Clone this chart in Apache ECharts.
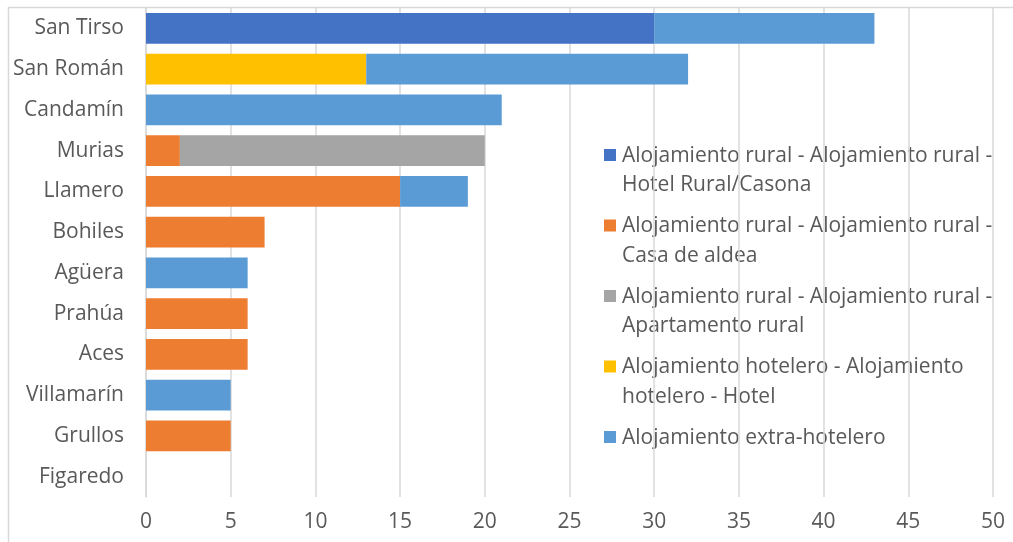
<!DOCTYPE html>
<html>
<head>
<meta charset="utf-8">
<script src="https://cdn.jsdelivr.net/npm/echarts@6/dist/echarts.min.js"></script>
<style>
  html, body { margin: 0; padding: 0; background: #fff; }
  #chart { width: 1013px; height: 542px; }
</style>
</head>
<body>
<div id="chart"></div>
<script>
// Localidades (top to bottom)
const categories = ['San Tirso', 'San Román', 'Candamín', 'Murias', 'Llamero', 'Bohiles',
  'Agüera', 'Prahúa', 'Aces', 'Villamarín', 'Grullos', 'Figaredo'];

// Establecimientos por tipo
const hotelRuralCasona = [30, 0, 0, 0, 0, 0, 0, 0, 0, 0, 0, 0];
const casaDeAldea      = [0, 0, 0, 2, 15, 7, 0, 6, 6, 0, 5, 0];
const apartamentoRural = [0, 0, 0, 18, 0, 0, 0, 0, 0, 0, 0, 0];
const hotel            = [0, 13, 0, 0, 0, 0, 0, 0, 0, 0, 0, 0];
const extraHotelero    = [13, 19, 21, 0, 4, 0, 6, 0, 0, 5, 0, 0];

const seriesNames = [
  'Alojamiento rural - Alojamiento rural - Hotel Rural/Casona',
  'Alojamiento rural - Alojamiento rural - Casa de aldea',
  'Alojamiento rural - Alojamiento rural - Apartamento rural',
  'Alojamiento hotelero - Alojamiento hotelero - Hotel',
  'Alojamiento extra-hotelero'
];
// Legend text as wrapped lines
const legendLines = [
  'Alojamiento rural - Alojamiento rural -\nHotel Rural/Casona',
  'Alojamiento rural - Alojamiento rural -\nCasa de aldea',
  'Alojamiento rural - Alojamiento rural -\nApartamento rural',
  'Alojamiento hotelero - Alojamiento\nhotelero - Hotel',
  'Alojamiento extra-hotelero'
];
const seriesData = [hotelRuralCasona, casaDeAldea, apartamentoRural, hotel, extraHotelero];
const colors = ['#4472C4', '#ED7D31', '#A5A5A5', '#FFC000', '#5B9BD5'];

const FONT = 'Open Sans';
const FONT_SIZE = 21;
const TEXT = '#595959';
const GRID = '#D9D9D9';

const chart = echarts.init(document.getElementById('chart'), null, { renderer: 'canvas' });

// Legend drawn as a column of swatches with wrapped labels
const legendGraphics = [];
const legendX = 604, legendY0 = 155, legendStep = 70.5, lineH = 29.5;
legendLines.forEach((txt, i) => {
  const cy = legendY0 + i * legendStep;
  legendGraphics.push({
    type: 'rect', shape: { x: legendX, y: cy - 6, width: 12, height: 12 },
    style: { fill: colors[i] }, silent: true
  });
  legendGraphics.push({
    type: 'text', x: legendX + 18, y: cy - lineH / 2 + 1,
    style: {
      text: txt, fill: TEXT, font: FONT_SIZE + 'px "' + FONT + '"', lineHeight: lineH,
      verticalAlign: 'top', align: 'left'
    }, silent: true
  });
});

chart.setOption({
  animation: false,
  backgroundColor: '#fff',
  textStyle: { fontFamily: FONT },
  grid: { left: 146, right: 20, top: 8, bottom: 45, containLabel: false },
  xAxis: {
    type: 'value', min: 0, max: 50, interval: 5,
    axisLine: { show: false }, axisTick: { show: false },
    splitLine: { show: true, lineStyle: { color: GRID, width: 1.5 } },
    axisLabel: { color: TEXT, fontSize: FONT_SIZE, margin: 15, fontFamily: FONT }
  },
  yAxis: {
    type: 'category', data: categories, inverse: true,
    axisLine: { show: true, lineStyle: { color: GRID, width: 1.5 } },
    axisTick: { show: false },
    axisLabel: { color: TEXT, fontSize: FONT_SIZE, margin: 22, fontFamily: FONT }
  },
  series: seriesData.map((d, i) => ({
    name: seriesNames[i], type: 'bar', stack: 'total',
    data: d, barCategoryGap: '25%',
    itemStyle: { color: colors[i] }
  })),
  graphic: [
    {
      type: 'rect', shape: { x: 8.5, y: 7.5, width: 1200, height: 700 },
      style: { fill: 'none', stroke: GRID, lineWidth: 1.5 }, silent: true, z: -10
    },
    ...legendGraphics
  ]
});
</script>
</body>
</html>
